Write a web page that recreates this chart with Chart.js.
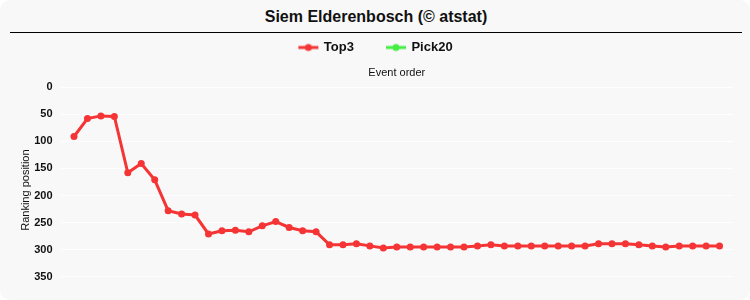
<!DOCTYPE html>
<html>
<head>
<meta charset="utf-8">
<script src="https://cdn.jsdelivr.net/npm/chart.js@4/dist/chart.umd.min.js"></script>
<style>
  html, body { margin: 0; padding: 0; background: #ffffff; }
  #wrap { position: relative; width: 750px; height: 300px; background: #f8f8f8; border-radius: 10px; overflow: hidden; font-family: Arial, "Liberation Sans", sans-serif; }
  #title { position: absolute; left: 10px; right: 8px; top: 0; height: 32px; border-bottom: 1px solid #000; text-align: center; font-weight: bold; font-size: 16px; line-height: 33px; color: #111; }
  #cv { position: absolute; left: 0; top: 33px; }
</style>
</head>
<body>
<div id="wrap">
  <div id="title">Siem Elderenbosch (© atstat)</div>
  <canvas id="cv" width="750" height="267"></canvas>
</div>
<script>
const chartTitle = "Siem Elderenbosch (© atstat)";
const seriesNames = ["Top3", "Pick20"];
const eventOrder = [1,2,3,4,5,6,7,8,9,10,11,12,13,14,15,16,17,18,19,20,21,22,23,24,25,26,27,28,29,30,31,32,33,34,35,36,37,38,39,40,41,42,43,44,45,46,47,48,49];
const top3Values = [91,58,53,54,158,141,171,228,234,236,271,265,264,267,256,248,259,265,267,291,291,289,293,297,295,295,295,295,295,295,293,291,293,293,293,293,293,293,293,289,289,289,291,293,295,293,293,293,293];
const pick20Values = [];
const yTicks = [0,50,100,150,200,250,300,350];
const yMax = 380;
const xMax = 50;

function legendMarker(color) {
  const c = document.createElement('canvas');
  c.width = 24; c.height = 10;
  const g = c.getContext('2d');
  g.strokeStyle = color; g.lineWidth = 3;
  g.beginPath(); g.moveTo(3, 5); g.lineTo(23, 5); g.stroke();
  g.fillStyle = color;
  g.beginPath(); g.arc(13, 5, 3.5, 0, Math.PI * 2); g.fill();
  return c;
}

const red = '#f53535';
const green = '#44ee44';
const font = "Arial, 'Liberation Sans', sans-serif";

new Chart(document.getElementById('cv'), {
  type: 'line',
  data: {
    datasets: [
      {
        label: seriesNames[0],
        data: eventOrder.map((x, i) => ({ x: x, y: top3Values[i] })),
        borderColor: red, backgroundColor: red,
        borderWidth: 3, pointRadius: 3.5, pointBackgroundColor: red, pointBorderWidth: 0,
        pointStyle: 'circle', tension: 0
      },
      {
        label: seriesNames[1],
        data: pick20Values.map((v, i) => ({ x: eventOrder[i], y: v })),
        borderColor: green, backgroundColor: green,
        borderWidth: 3, pointRadius: 3.5, pointStyle: 'circle'
      }
    ]
  },
  options: {
    responsive: false,
    animation: false,
    layout: { padding: { left: 17, right: 17, bottom: 7, top: -23 } },
    plugins: {
      title: { display: false, text: chartTitle },
      tooltip: { enabled: false },
      legend: {
        display: true,
        labels: {
          usePointStyle: true,
          pointStyleWidth: 20,
          boxHeight: 10,
          padding: 31,
          color: '#111',
          font: { family: font, size: 13, weight: 'bold' },
          generateLabels: (chart) => chart.data.datasets.map((ds, i) => ({
            text: ds.label,
            pointStyle: legendMarker(ds.borderColor),
            fillStyle: ds.borderColor,
            strokeStyle: ds.borderColor,
            lineWidth: 0,
            hidden: false,
            datasetIndex: i,
            fontColor: '#111'
          }))
        }
      }
    },
    scales: {
      x: {
        type: 'linear',
        position: 'top',
        min: 0, max: xMax,
        grid: { display: false, drawTicks: false },
        border: { display: false },
        ticks: { display: false },
        title: { display: true, text: 'Event order', color: '#111', font: { family: font, size: 11 }, padding: { top: 2, bottom: 8 } }
      },
      y: {
        reverse: true,
        min: 0, max: yMax,
        afterBuildTicks: (scale) => { scale.ticks = yTicks.map(v => ({ value: v })); },
        grid: { color: '#ffffff', lineWidth: 1, drawTicks: true, tickLength: 8, tickColor: 'rgba(0,0,0,0)' },
        border: { display: false },
        ticks: { padding: 0, color: '#111', font: { family: font, size: 11, weight: 'bold' } },
        title: { display: true, text: 'Ranking position', color: '#111', font: { family: font, size: 11 }, padding: { top: 2, bottom: 2 } }
      }
    }
  }
});
</script>
</body>
</html>
